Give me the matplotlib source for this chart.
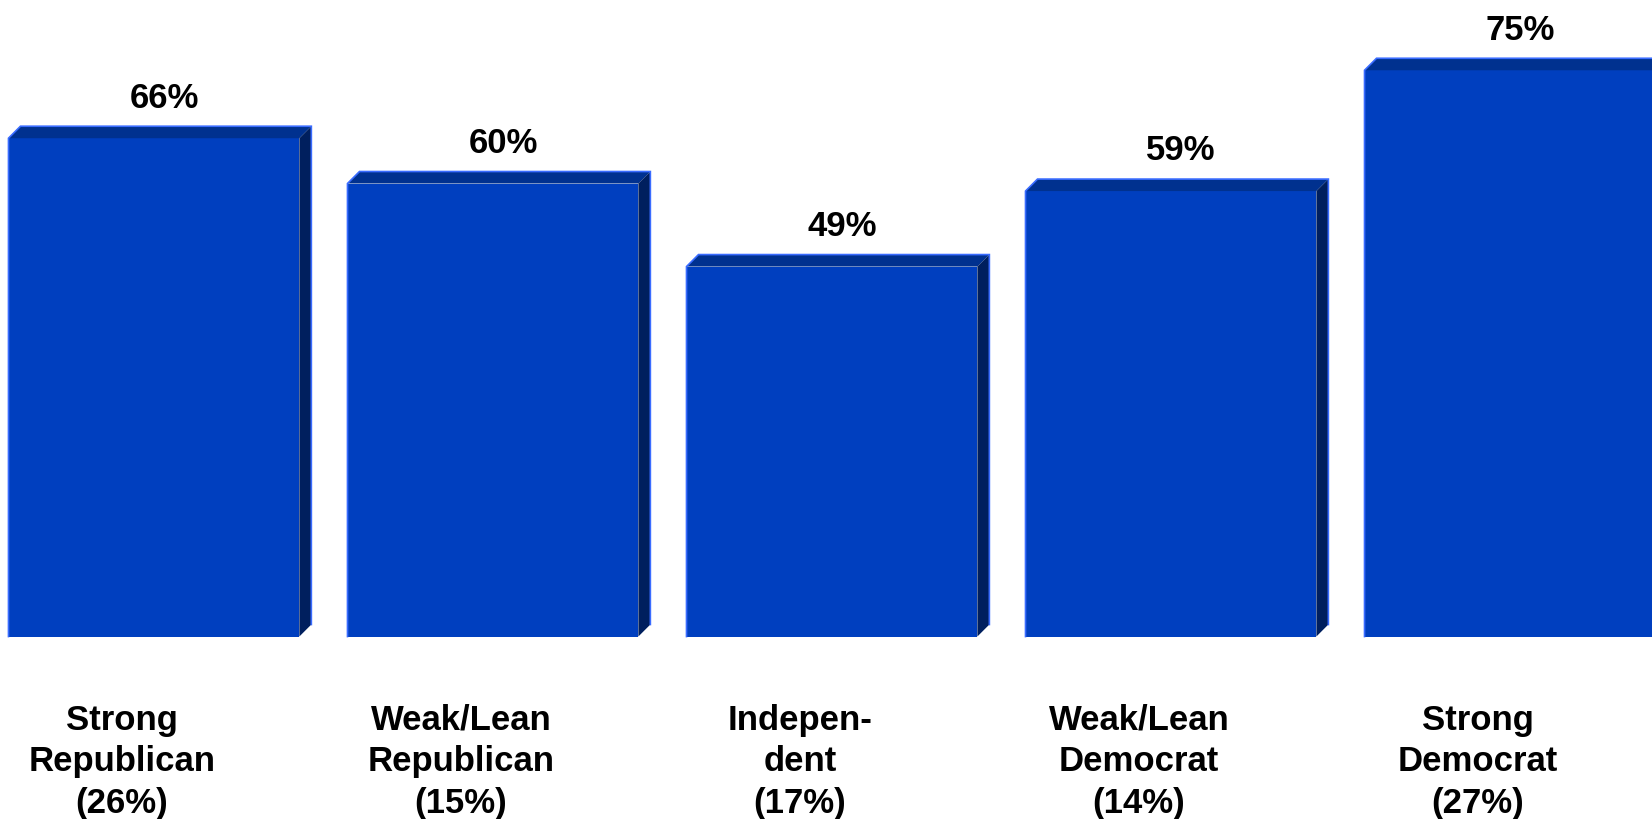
"""Party ID bar chart with a pseudo-3D look (front, top and side faces)."""

import matplotlib
matplotlib.use("Agg")
import matplotlib.pyplot as plt
from matplotlib.patches import Polygon

categories = [
    "Strong\nRepublican\n(26%)",
    "Weak/Lean\nRepublican\n(15%)",
    "Indepen-\ndent\n(17%)",
    "Weak/Lean\nDemocrat\n(14%)",
    "Strong\nDemocrat\n(27%)",
]
values = [66, 60, 49, 59, 75]
value_labels = ["66%", "60%", "49%", "59%", "75%"]

FRONT = "#003fbf"
TOP = "#00318f"
SIDE = "#001f5e"
EDGE = "#3a6cff"

plt.rcParams["font.family"] = ["Liberation Sans", "DejaVu Sans"]

fig = plt.figure(figsize=(16.52, 8.2), dpi=100)
ax = fig.add_axes([0, 0, 1, 1])
ax.set_xlim(-0.454, 4.419)
ax.set_ylim(-24.17, 84.44)
ax.axis("off")

width = 0.858
dx, dy = 0.0354, 1.59  # depth of the fake 3D extrusion

x = list(range(len(values)))
ax.bar(x, values, width=width, color=FRONT, linewidth=0, zorder=2)

for xi, v in zip(x, values):
    l, r = xi - width / 2, xi + width / 2
    top = Polygon([(l, v), (l + dx, v + dy), (r + dx, v + dy), (r, v)],
                  closed=True, facecolor=TOP, edgecolor="none", zorder=3)
    side = Polygon([(r, 0), (r + dx, dy), (r + dx, v + dy), (r, v)],
                   closed=True, facecolor=SIDE, edgecolor="none", zorder=3)
    ax.add_patch(top)
    ax.add_patch(side)
    # light highlight along outer edges
    ax.plot([l, l, l + dx, r + dx, r + dx], [0, v, v + dy, v + dy, dy],
            color=EDGE, lw=1.2, zorder=4, solid_joinstyle="miter")

for xi, v, lab in zip(x, values, value_labels):
    ax.text(xi + 0.03, v + dy + 2.6, lab, ha="center", va="baseline",
            fontsize=25, fontweight="bold", color="black")

for xi, cat in zip(x, categories):
    ax.text(xi - 0.094, -8.8, cat, ha="center", va="top", fontsize=25,
            fontweight="bold", color="black", linespacing=1.32)

fig.savefig("out.png", dpi=100)
